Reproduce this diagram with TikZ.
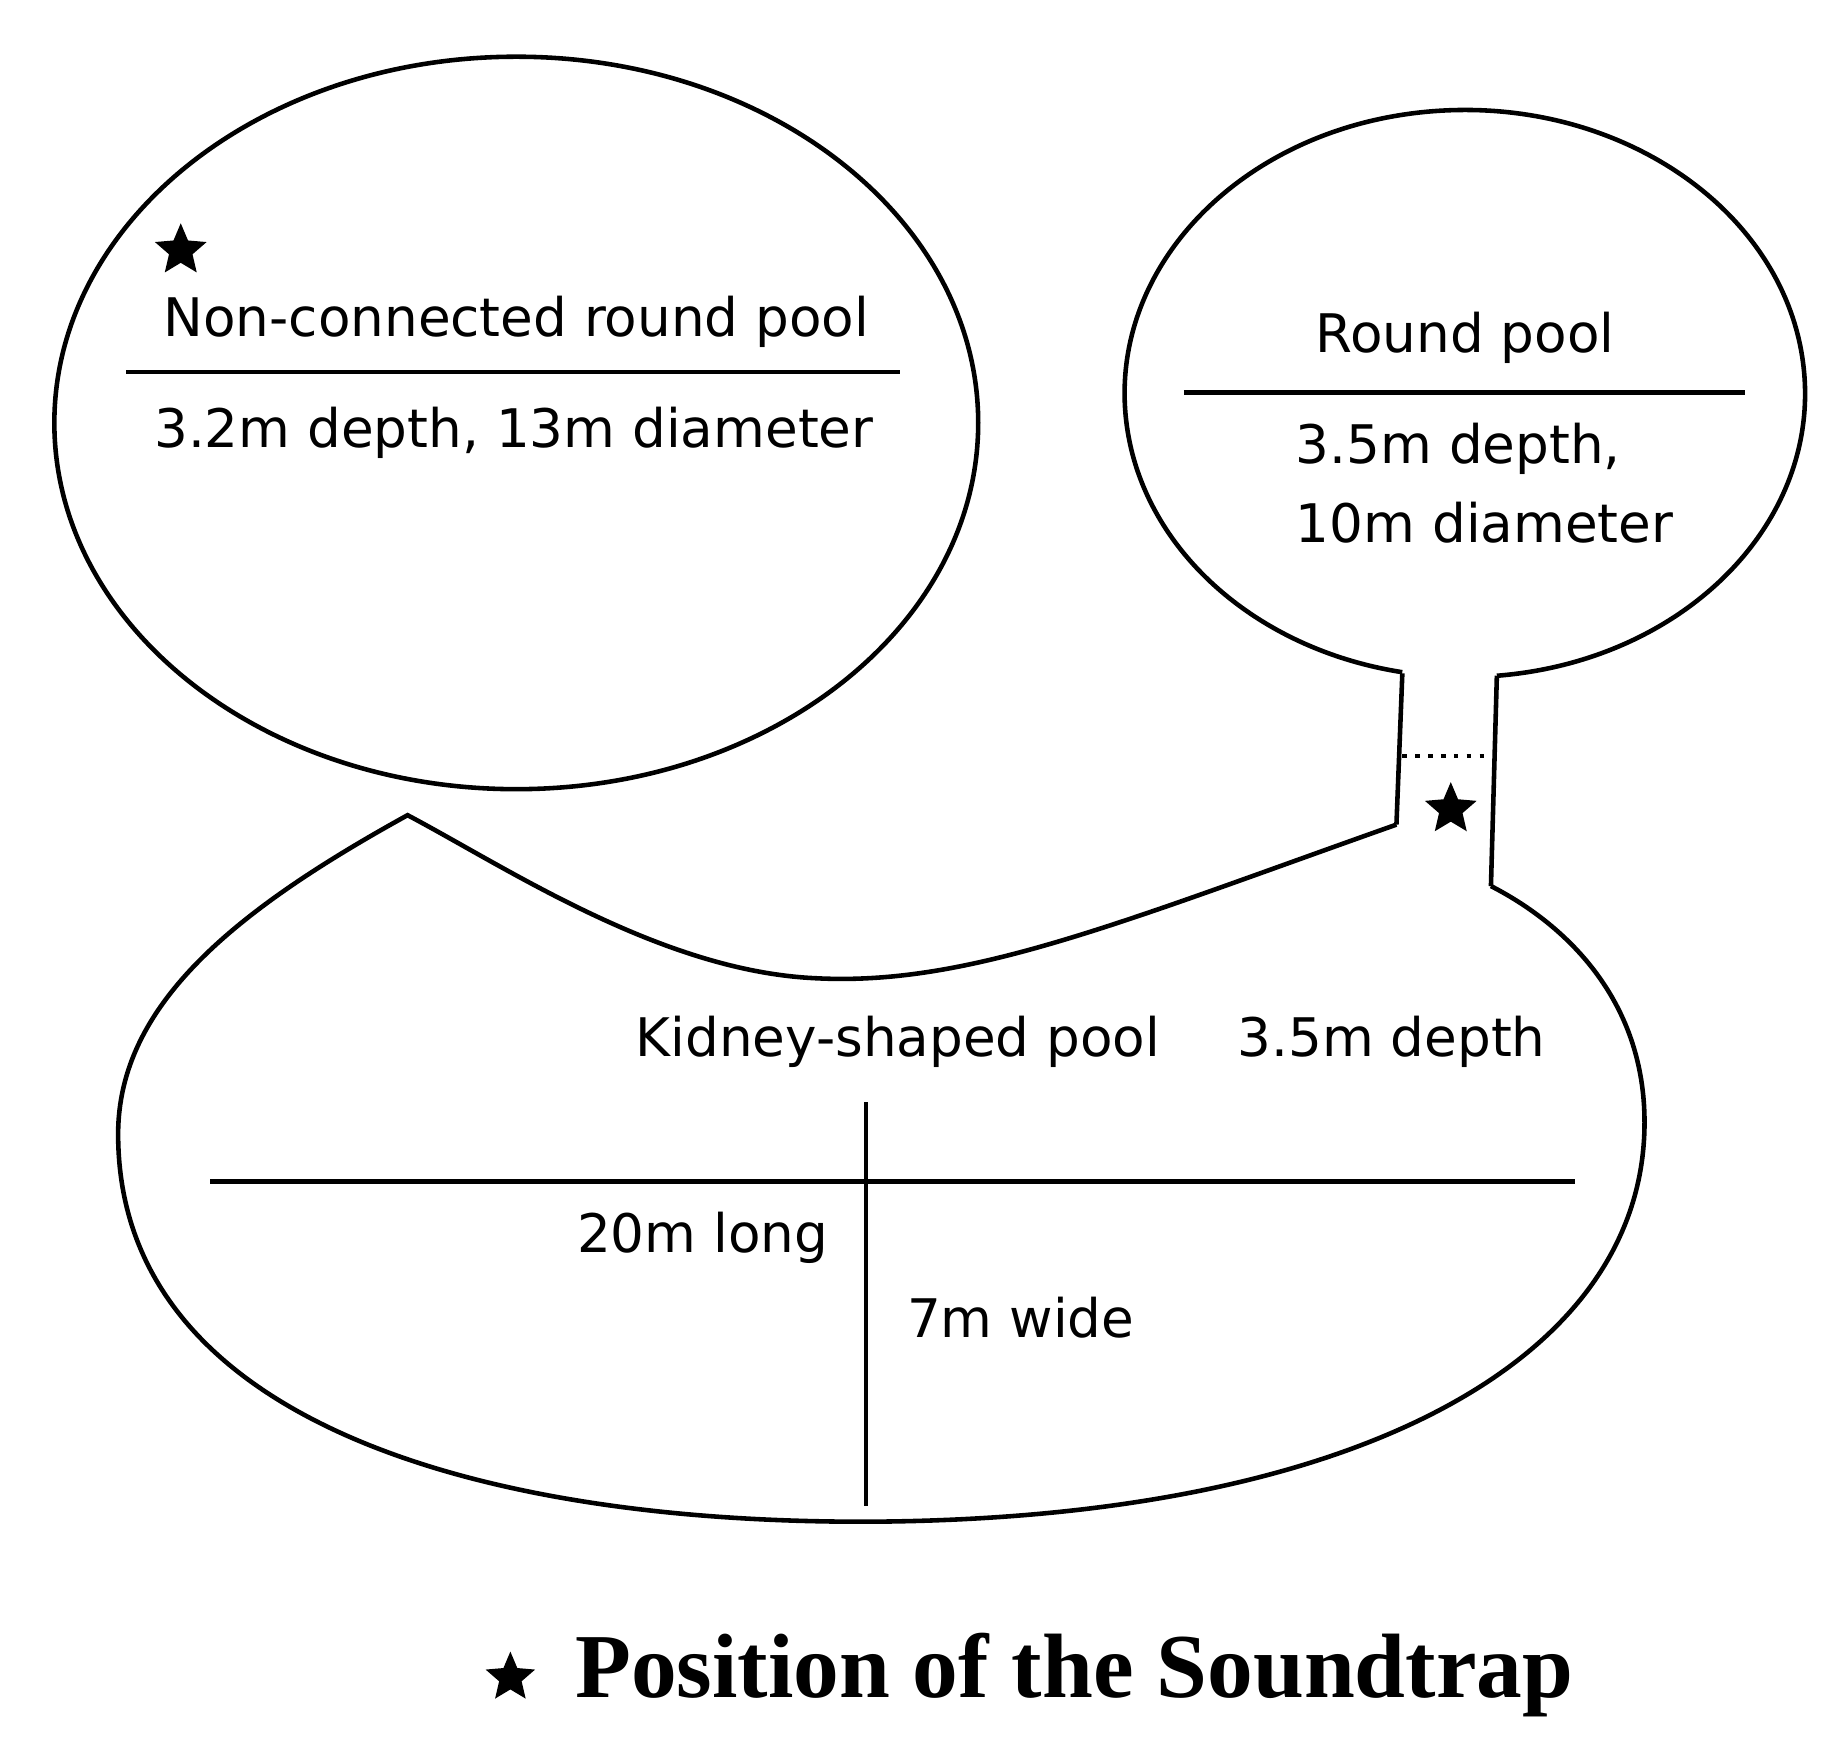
\documentclass[tikz,border=0pt]{standalone}
\usepackage{fontspec}
\setmainfont{DejaVu Sans}
\newfontfamily\capfont{Liberation Serif}
\usetikzlibrary{shapes.geometric}
\begin{document}
\begin{tikzpicture}[x=0.01cm,y=0.01cm,line width=1.1pt,
  lbl/.style={font=\fontsize{12.8}{15}\selectfont,inner sep=0pt},
  strmark/.style={star,star points=5,star point ratio=2.2,fill=black,inner sep=0pt,minimum size=0.46cm}]
\useasboundingbox (0,0) rectangle (1560,-1470);
% left ellipse
\draw (437,-358) ellipse [x radius=391, y radius=310];
\draw (107,-315) -- (762,-315);
\node[strmark] (s1) at (153,-212) {};
\node[lbl] (t1) at (437,-272) {Non-connected round pool};
\node[lbl] (t2) at (435,-366) {3.2m depth, 13m diameter};
% right pool
\draw (1267,-572) arc[start angle=275.4, end angle=619.4, x radius=288, y radius=240];
\draw (1002,-332) -- (1477,-332);
\node[lbl] (t3) at (1240,-286) {Round pool};
\node[lbl,anchor=west] (t4) at (1095,-380) {3.5m depth,};
\node[lbl,anchor=west] (t5) at (1095,-442) {10m diameter};
% channel
\draw (1187,-570) -- (1182,-698);
\draw (1267,-572) -- (1262,-750);
\draw[dotted] (1187,-640) -- (1265,-640);
\node[strmark] (s2) at (1228,-685) {};
% kidney pool
\draw (1182,-698) .. controls (950,-780) and (820,-835) .. (690,-828)
  .. controls (560,-822) and (430,-735) .. (345,-690)
  .. controls (200,-770) and (100,-850) .. (100,-960)
  .. controls (100,-1200) and (400,-1290) .. (740,-1288)
  .. controls (1150,-1285) and (1392,-1150) .. (1392,-950)
  .. controls (1392,-850) and (1330,-785) .. (1262,-750);
\draw (178,-1000) -- (1333,-1000);
\draw (733,-933) -- (733,-1275);
\node[lbl] (t6) at (760,-882) {Kidney-shaped pool};
\node[lbl] (t7) at (1178,-882) {3.5m depth};
\node[lbl,anchor=east] (t8) at (703,-1048) {20m long};
\node[lbl] (t9) at (864,-1115) {7m wide};
% caption
\node[strmark,minimum size=0.44cm] (s3) at (432,-1420) {};
\node[anchor=west,inner sep=0pt,font=\capfont\bfseries\fontsize{22}{26}\selectfont] (cap) at (485,-1418) {Position of the Soundtrap};
\end{tikzpicture}
\end{document}
